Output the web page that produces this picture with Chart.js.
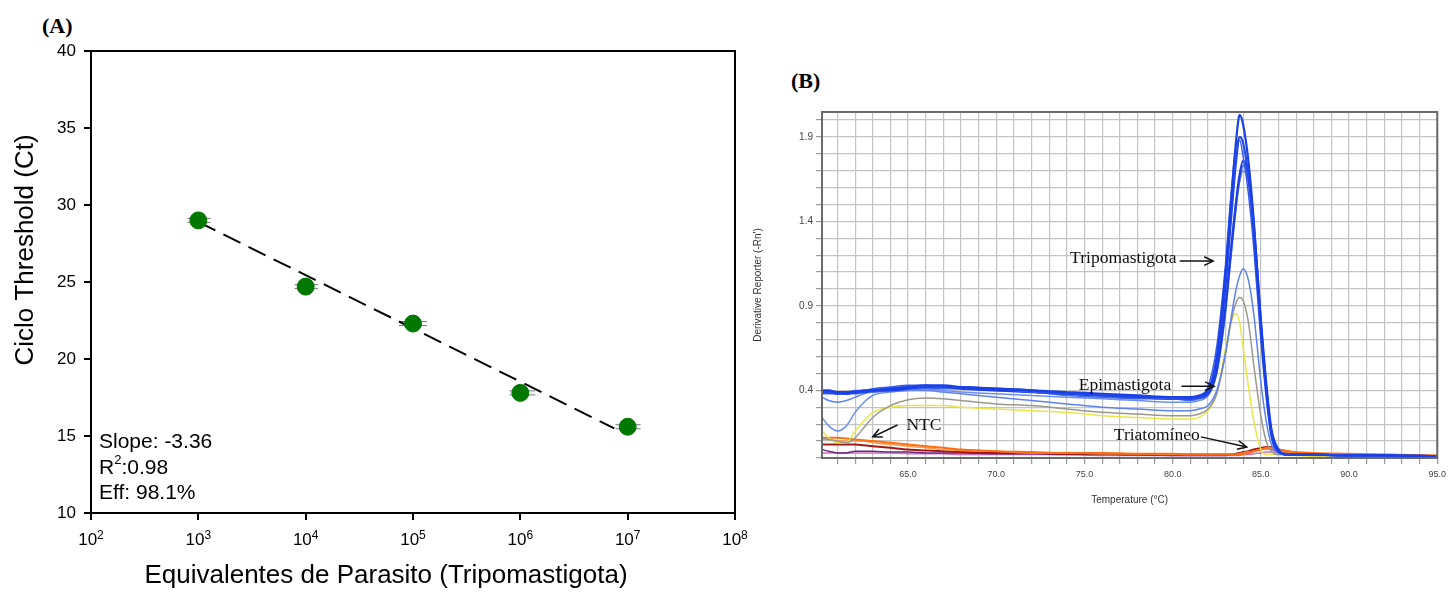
<!DOCTYPE html>
<html>
<head>
<meta charset="utf-8">
<script src="https://cdn.jsdelivr.net/npm/chart.js@4.4.1/dist/chart.umd.min.js"></script>
<style>
  body { margin: 0; background: #fff; width: 1451px; height: 596px; overflow: hidden; position: relative; }
  .tag { position: absolute; font-family: 'Liberation Serif', 'Times New Roman', serif; font-weight: bold; font-size: 22px; color: #000; }
  #wrapA { position: absolute; left: 0; top: 0; }
  #wrapB { position: absolute; left: 752px; top: 95px; }
</style>
</head>
<body>
<div class="tag" style="left:42px;top:13px">(A)</div>
<div class="tag" style="left:791px;top:68px">(B)</div>
<div id="wrapA"><canvas id="chartA" width="752" height="596"></canvas></div>
<div id="wrapB"><canvas id="chartB" width="699" height="425"></canvas></div>
<script>
Chart.defaults.font.family = "'Liberation Sans', Arial, sans-serif";

// ---- (A) standard curve ----
const parasiteEq = [1e3, 1e4, 1e5, 1e6, 1e7];
const ctMean = [29.0, 24.7, 22.3, 17.8, 15.6];
const eqLow = [790, 7.9e3, 7.4e4, 7.9e5, 7.7e6];
const eqHigh = [1.3e3, 1.3e4, 1.35e5, 1.38e6, 1.32e7];
const fitX = [1e3, 7.5e6];
const fitY = [28.9, 15.5];
const xTicksA = [1e2, 1e3, 1e4, 1e5, 1e6, 1e7, 1e8];
const xTickExpA = ['2', '3', '4', '5', '6', '7', '8'];
const yTicksA = [10, 15, 20, 25, 30, 35, 40];
const slopeText = 'Slope: -3.36';
const r2Text = '0.98';
const effText = 'Eff: 98.1%';

// ---- (B) melt curves ----
const temps = [60.12, 60.5, 61, 61.5, 62, 62.5, 63, 64, 65, 66, 67, 68, 70, 72, 74, 76, 78, 80, 81, 81.5,
  82, 82.5, 83, 83.3, 83.6, 83.8, 84, 84.3, 84.6, 85, 85.3, 85.6, 86, 86.5, 87, 88, 90, 92, 95];
const trypo1 = [0.40,0.40,0.39,0.39,0.39,0.40,0.40,0.41,0.42,0.43,0.43,0.42,0.41,0.40,0.39,0.38,0.37,0.36,0.36,0.37,
  0.40,0.60,1.10,1.50,1.88,2.03,1.97,1.75,1.40,0.80,0.42,0.15,0.04,0.02,0.02,0.02,0.015,0.015,0.01];
const trypo2 = [0.39,0.39,0.39,0.38,0.39,0.39,0.40,0.41,0.42,0.42,0.42,0.42,0.41,0.40,0.38,0.37,0.36,0.36,0.35,0.36,
  0.39,0.57,1.02,1.40,1.76,1.90,1.86,1.66,1.33,0.76,0.40,0.14,0.04,0.02,0.02,0.02,0.015,0.015,0.01];
const trypo3 = [0.40,0.39,0.39,0.39,0.40,0.40,0.41,0.42,0.43,0.43,0.42,0.42,0.41,0.39,0.38,0.37,0.36,0.35,0.35,0.37,
  0.42,0.66,1.15,1.55,1.85,1.88,1.78,1.56,1.24,0.70,0.36,0.12,0.03,0.02,0.02,0.02,0.015,0.015,0.01];
const trypo4 = [0.39,0.39,0.38,0.38,0.39,0.39,0.40,0.40,0.41,0.42,0.42,0.41,0.40,0.39,0.38,0.37,0.36,0.35,0.35,0.36,
  0.38,0.52,0.90,1.22,1.52,1.68,1.76,1.66,1.38,0.82,0.45,0.17,0.05,0.02,0.02,0.02,0.015,0.015,0.01];
const trypo5 = [0.38,0.38,0.38,0.38,0.38,0.39,0.39,0.40,0.41,0.41,0.41,0.41,0.40,0.39,0.37,0.36,0.35,0.35,0.34,0.35,
  0.37,0.50,0.86,1.18,1.48,1.64,1.73,1.65,1.37,0.80,0.44,0.16,0.05,0.02,0.02,0.02,0.015,0.015,0.01];
const epi1 = [0.36,0.34,0.33,0.34,0.36,0.38,0.39,0.40,0.40,0.40,0.39,0.38,0.36,0.34,0.32,0.30,0.29,0.28,0.28,0.29,
  0.31,0.40,0.62,0.82,1.00,1.08,1.12,1.05,0.85,0.45,0.22,0.08,0.03,0.02,0.02,0.02,0.015,0.015,0.01];
const epi2 = [0.24,0.19,0.16,0.19,0.27,0.33,0.37,0.39,0.40,0.41,0.40,0.39,0.38,0.37,0.36,0.35,0.34,0.33,0.33,0.34,
  0.37,0.52,0.92,1.25,1.52,1.64,1.70,1.62,1.34,0.78,0.42,0.16,0.05,0.02,0.02,0.02,0.015,0.015,0.01];
const epiGray = [0.12,0.11,0.10,0.09,0.12,0.18,0.24,0.31,0.345,0.355,0.35,0.34,0.32,0.31,0.29,0.27,0.26,0.25,0.25,0.26,
  0.29,0.38,0.62,0.80,0.92,0.95,0.93,0.80,0.55,0.25,0.10,0.04,0.02,0.02,0.02,0.015,0.015,0.01,0.01];
const epiYellow = [0.16,0.12,0.09,0.09,0.16,0.22,0.27,0.30,0.31,0.31,0.31,0.30,0.29,0.28,0.27,0.25,0.24,0.23,0.23,0.24,
  0.28,0.38,0.65,0.80,0.855,0.80,0.65,0.42,0.22,0.05,0.02,0.02,0.02,0.015,0.015,0.01,0.01,0.01,0.01];
const ntcOrange = [0.12,0.12,0.12,0.115,0.11,0.105,0.10,0.09,0.08,0.07,0.06,0.05,0.04,0.035,0.03,0.03,0.025,0.025,0.02,0.02,
  0.02,0.02,0.02,0.02,0.02,0.02,0.025,0.03,0.04,0.05,0.06,0.06,0.05,0.04,0.035,0.03,0.025,0.02,0.015];
const ntcLightOrange = [0.11,0.11,0.10,0.10,0.10,0.10,0.09,0.08,0.07,0.06,0.05,0.045,0.04,0.03,0.03,0.025,0.025,0.02,0.02,0.02,
  0.02,0.02,0.02,0.02,0.02,0.025,0.03,0.035,0.04,0.05,0.055,0.055,0.045,0.035,0.03,0.025,0.02,0.02,0.015];
const triaRed = [0.08,0.08,0.08,0.08,0.08,0.075,0.07,0.06,0.05,0.045,0.04,0.035,0.03,0.03,0.025,0.025,0.02,0.02,0.02,0.02,
  0.02,0.02,0.02,0.02,0.025,0.03,0.035,0.04,0.05,0.06,0.065,0.065,0.05,0.04,0.03,0.025,0.02,0.015,0.01];
const triaPurple = [0.05,0.04,0.03,0.03,0.04,0.04,0.04,0.035,0.035,0.03,0.03,0.03,0.025,0.025,0.02,0.02,0.02,0.015,0.015,0.015,
  0.015,0.015,0.015,0.02,0.02,0.02,0.025,0.03,0.04,0.05,0.055,0.05,0.04,0.03,0.025,0.02,0.015,0.01,0.01];
const triaPink = [0.03,0.03,0.03,0.03,0.03,0.03,0.03,0.03,0.025,0.025,0.025,0.02,0.02,0.02,0.02,0.015,0.015,0.015,0.015,0.015,
  0.015,0.015,0.015,0.015,0.015,0.015,0.02,0.02,0.025,0.03,0.035,0.035,0.03,0.025,0.02,0.015,0.01,0.01,0.01];
const xLabelsB = [65, 70, 75, 80, 85, 90, 95];
const yLabelsB = [0.4, 0.9, 1.4, 1.9];
const noteTextB = ['Tripomastigota', 'Epimastigota', 'Triatomíneo', 'NTC'];
const noteAtB = [[77.2, 1.18], [77.3, 0.43], [79.1, 0.135], [65.9, 0.195]];
const arrowFromB = [[80.4, 1.165], [80.5, 0.425], [81.6, 0.125], [64.4, 0.195]];
const arrowToB = [[82.3, 1.165], [82.35, 0.425], [84.2, 0.065], [63.0, 0.125]];

// ---------- chart A ----------
const frameA = {
  id: 'frameA',
  beforeDatasetsDraw(chart) {
    const { ctx, scales: { x, y } } = chart;
    ctx.save();
    ctx.strokeStyle = '#777';
    ctx.lineWidth = 1;
    parasiteEq.forEach((v, i) => {
      const py = y.getPixelForValue(ctMean[i]);
      const x1 = x.getPixelForValue(eqLow[i]);
      const x2 = x.getPixelForValue(eqHigh[i]);
      [-2, 2].forEach(d => {
        ctx.beginPath();
        ctx.moveTo(x1, py + d);
        ctx.lineTo(x2, py + d);
        ctx.stroke();
      });
    });
    ctx.restore();
  },
  afterDraw(chart) {
    const { ctx, chartArea: a, scales: { x } } = chart;
    ctx.save();
    ctx.strokeStyle = '#000';
    ctx.lineWidth = 2;
    ctx.strokeRect(a.left, a.top, a.right - a.left, a.bottom - a.top);

    ctx.fillStyle = '#000';
    ctx.textBaseline = 'alphabetic';

    // x tick labels as 10 with a superscript exponent
    xTicksA.forEach((v, i) => {
      ctx.font = "17px 'Liberation Sans', Arial";
      const bw = ctx.measureText('10').width;
      ctx.font = "12px 'Liberation Sans', Arial";
      const ew = ctx.measureText(xTickExpA[i]).width;
      const left = x.getPixelForValue(v) - (bw + ew) / 2;
      ctx.textAlign = 'left';
      ctx.font = "17px 'Liberation Sans', Arial";
      ctx.fillText('10', left, 545);
      ctx.font = "12px 'Liberation Sans', Arial";
      ctx.fillText(xTickExpA[i], left + bw, 539);
    });

    ctx.textAlign = 'left';
    ctx.font = "21px 'Liberation Sans', Arial";
    ctx.fillText(slopeText, a.left + 8, 448);
    ctx.fillText('R', a.left + 8, 474);
    const rw = ctx.measureText('R').width;
    ctx.font = "13px 'Liberation Sans', Arial";
    ctx.fillText('2', a.left + 8 + rw, 464);
    const sw = ctx.measureText('2').width;
    ctx.font = "21px 'Liberation Sans', Arial";
    ctx.fillText(':' + r2Text, a.left + 8 + rw + sw, 474);
    ctx.fillText(effText, a.left + 8, 499);

    ctx.font = "26px 'Liberation Sans', Arial";
    ctx.textAlign = 'center';
    ctx.textBaseline = 'middle';
    ctx.fillText('Equivalentes de Parasito (Tripomastigota)', 386, 576);
    ctx.translate(26, 250);
    ctx.rotate(-Math.PI / 2);
    ctx.fillText('Ciclo Threshold (Ct)', 0, 0);
    ctx.restore();
  }
};

new Chart(document.getElementById('chartA'), {
  type: 'scatter',
  data: {
    datasets: [
      {
        label: 'Ct',
        data: parasiteEq.map((v, i) => ({ x: v, y: ctMean[i] })),
        backgroundColor: '#007800',
        borderColor: '#007800',
        pointRadius: 8.5,
        pointHoverRadius: 8.5
      },
      {
        label: 'fit',
        data: fitX.map((v, i) => ({ x: v, y: fitY[i] })),
        showLine: true,
        borderColor: '#000',
        borderWidth: 2,
        borderDash: [19, 9],
        pointRadius: 0
      }
    ]
  },
  options: {
    responsive: false,
    animation: false,
    layout: { padding: { top: 51, right: 17, left: 0, bottom: 0 } },
    plugins: { legend: { display: false }, tooltip: { enabled: false } },
    scales: {
      x: {
        type: 'logarithmic',
        min: 100,
        max: 1e8,
        afterBuildTicks: s => { s.ticks = xTicksA.map(v => ({ value: v })); },
        afterFit: s => { s.height = 83; },
        ticks: { display: false },
        grid: { drawOnChartArea: false, tickLength: 7, color: '#000', lineWidth: 2 },
        border: { color: '#000', width: 2 }
      },
      y: {
        min: 10,
        max: 40,
        afterBuildTicks: s => { s.ticks = yTicksA.map(v => ({ value: v })); },
        afterFit: s => { s.width = 91; },
        ticks: { padding: 8, color: '#000', font: { size: 17 } },
        grid: { drawOnChartArea: false, tickLength: 7, color: '#000', lineWidth: 2 },
        border: { color: '#000', width: 2 }
      }
    }
  },
  plugins: [frameA]
});

// ---------- chart B ----------
function curve(label, values, color, width) {
  return {
    label: label,
    data: temps.map((t, i) => ({ x: t, y: values[i] })),
    borderColor: color,
    borderWidth: width,
    pointRadius: 0,
    cubicInterpolationMode: 'monotone',
    fill: false
  };
}

const notesB = {
  id: 'notesB',
  afterDraw(chart) {
    const { ctx, chartArea: a, scales: { x, y } } = chart;
    ctx.save();
    ctx.strokeStyle = '#6a6a6a';
    ctx.lineWidth = 2;
    ctx.strokeRect(a.left, a.top, a.right - a.left, a.bottom - a.top);

    ctx.font = "17.5px 'Liberation Serif', 'Times New Roman', serif";
    ctx.fillStyle = '#111';
    ctx.textAlign = 'center';
    ctx.textBaseline = 'middle';
    noteTextB.forEach((txt, i) => {
      ctx.fillText(txt, x.getPixelForValue(noteAtB[i][0]), y.getPixelForValue(noteAtB[i][1]));
      const x1 = x.getPixelForValue(arrowFromB[i][0]), y1 = y.getPixelForValue(arrowFromB[i][1]);
      const x2 = x.getPixelForValue(arrowToB[i][0]), y2 = y.getPixelForValue(arrowToB[i][1]);
      const ang = Math.atan2(y2 - y1, x2 - x1);
      ctx.strokeStyle = '#111';
      ctx.lineWidth = 1.5;
      ctx.beginPath();
      ctx.moveTo(x1, y1);
      ctx.lineTo(x2, y2);
      ctx.moveTo(x2 - 10 * Math.cos(ang - 0.45), y2 - 10 * Math.sin(ang - 0.45));
      ctx.lineTo(x2, y2);
      ctx.lineTo(x2 - 10 * Math.cos(ang + 0.45), y2 - 10 * Math.sin(ang + 0.45));
      ctx.stroke();
    });
    ctx.restore();
  }
};

const gridB = { color: '#c4c4c4', lineWidth: 1.2, tickLength: 6, tickColor: '#999' };

new Chart(document.getElementById('chartB'), {
  type: 'line',
  data: {
    datasets: [
      curve('Tripomastigota 1', trypo1, '#1a40e8', 2.2),
      curve('Tripomastigota 2', trypo2, '#2448e4', 2.2),
      curve('Tripomastigota 3', trypo3, '#3a5ee8', 1.5),
      curve('Tripomastigota 4', trypo4, '#1c3ede', 2.2),
      curve('Tripomastigota 5', trypo5, '#4468ea', 1.5),
      curve('Epimastigota 1', epi1, '#5f82ee', 1.5),
      curve('Epimastigota 2', epi2, '#6d8ff0', 1.5),
      curve('Epimastigota 3', epiGray, '#9b988c', 1.5),
      curve('Epimastigota 4', epiYellow, '#e8e64a', 1.5),
      curve('NTC 1', ntcOrange, '#ff6d10', 2),
      curve('NTC 2', ntcLightOrange, '#f2a050', 1.5),
      curve('Triatomíneo 1', triaRed, '#a01818', 2),
      curve('Triatomíneo 2', triaPurple, '#6a2a80', 1.5),
      curve('Triatomíneo 3', triaPink, '#d070c0', 1.5)
    ]
  },
  options: {
    responsive: false,
    animation: false,
    layout: { padding: { top: 17, right: 7, left: 0, bottom: 0 } },
    plugins: { legend: { display: false }, tooltip: { enabled: false } },
    scales: {
      x: {
        type: 'linear',
        min: 60.12,
        max: 95,
        afterFit: s => { s.height = 62; },
        ticks: {
          stepSize: 1,
          includeBounds: false,
          autoSkip: false,
          maxRotation: 0,
          padding: 5,
          color: '#444',
          font: { size: 9 },
          callback: v => xLabelsB.some(l => Math.abs(l - v) < 1e-6) ? v.toFixed(1) : ''
        },
        grid: gridB,
        border: { color: '#6a6a6a', width: 2 },
        title: { display: true, text: 'Temperature (°C)', color: '#333', font: { size: 10 }, padding: { top: 0, bottom: 14 } }
      },
      y: {
        min: 0,
        max: 2.047,
        afterFit: s => { s.width = 70; },
        ticks: {
          stepSize: 0.1,
          includeBounds: false,
          autoSkip: false,
          padding: 3,
          color: '#444',
          font: { size: 10 },
          callback: v => yLabelsB.some(l => Math.abs(l - v) < 1e-6) ? v.toFixed(1) : ''
        },
        grid: gridB,
        border: { color: '#6a6a6a', width: 2 },
        title: { display: true, text: "Derivative Reporter (-Rn')", color: '#333', font: { size: 10 }, padding: { top: 0, bottom: 0 } }
      }
    }
  },
  plugins: [notesB]
});
</script>
</body>
</html>
